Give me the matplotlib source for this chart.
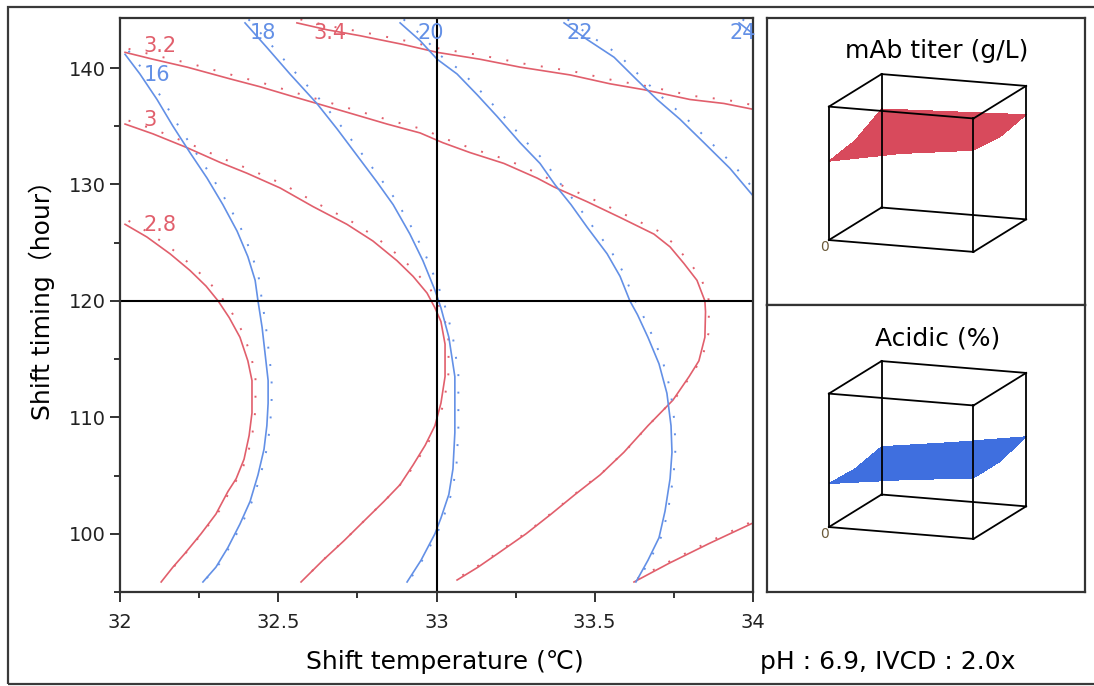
import numpy as np
import matplotlib
matplotlib.use("Agg")
import matplotlib.pyplot as plt
from matplotlib.patches import Rectangle
from matplotlib.transforms import ScaledTranslation
from mpl_toolkits.mplot3d import Axes3D  # noqa: F401

# ---- contour traces: (shift temperature, shift timing) ----
# mAb titer (g/L)
titer_28_t = [32.016, 32.085, 32.158, 32.221, 32.272, 32.310, 32.345, 32.379, 32.404, 32.417,
              32.417, 32.408, 32.392, 32.367, 32.341, 32.303, 32.256, 32.205, 32.167, 32.130]
titer_28_h = [126.58, 125.49, 124.05, 122.62, 121.27, 120.00, 118.57, 116.88, 114.85, 113.16,
              110.38, 108.44, 106.41, 104.73, 103.63, 101.69, 100.00, 98.31, 97.13, 95.86]

titer_30_t = [32.016, 32.104, 32.212, 32.316, 32.401, 32.506, 32.610, 32.717, 32.799, 32.875,
              32.926, 32.970, 32.995, 33.014, 33.027, 33.027, 33.014, 32.995, 32.964, 32.926,
              32.885, 32.834, 32.771, 32.708, 32.641, 32.572]
titer_30_h = [135.19, 134.35, 133.16, 131.90, 130.97, 129.70, 128.10, 126.58, 125.15, 123.46,
              122.11, 120.68, 119.41, 118.23, 116.29, 113.50, 111.22, 109.28, 107.59, 105.91,
              104.22, 102.78, 101.10, 99.41, 97.72, 95.86]

titer_32_t = [32.016, 32.104, 32.212, 32.348, 32.442, 32.547, 32.632, 32.749, 32.844, 32.948,
              33.020, 33.106, 33.213, 33.318, 33.371, 33.476, 33.580, 33.687, 33.738, 33.782,
              33.823, 33.848, 33.850, 33.848, 33.829, 33.798, 33.747, 33.668, 33.592, 33.517,
              33.438, 33.362, 33.283, 33.194, 33.131, 33.065]
titer_32_h = [141.35, 140.76, 140.08, 139.07, 138.40, 137.55, 136.88, 135.95, 135.19, 134.43,
              133.59, 132.74, 131.81, 130.55, 129.79, 128.52, 127.17, 125.74, 124.64, 123.21,
              121.77, 120.00, 119.07, 116.88, 114.85, 113.50, 111.48, 109.28, 107.00, 105.06,
              103.38, 101.69, 100.00, 98.31, 97.13, 96.03]

titer_34_t = [32.559, 32.654, 32.758, 32.894, 33.002, 33.137, 33.264, 33.422, 33.548, 33.656,
              33.801, 33.908, 34.000]
titer_34_h = [143.88, 143.29, 142.78, 142.03, 141.35, 140.76, 140.08, 139.41, 138.65, 138.14,
              137.30, 136.96, 136.46]
titer_34b_t = [33.624, 33.735, 33.861, 34.000]
titer_34b_h = [95.86, 97.47, 99.16, 100.93]

# Acidic (%)
acid_16_t = [32.016, 32.063, 32.117, 32.167, 32.221, 32.275, 32.325, 32.370, 32.404, 32.427,
             32.436, 32.449, 32.461, 32.468, 32.468, 32.464, 32.455, 32.436, 32.411, 32.379,
             32.341, 32.303, 32.262]
acid_16_h = [141.18, 139.49, 137.30, 135.02, 132.74, 130.55, 128.27, 125.99, 123.80, 121.77,
             120.00, 117.72, 114.85, 113.16, 111.22, 109.28, 107.26, 105.06, 102.78, 100.84,
             98.82, 97.13, 95.86]

acid_18_t = [32.395, 32.464, 32.537, 32.622, 32.686, 32.749, 32.812, 32.863, 32.916, 32.957,
             32.995, 33.014, 33.039, 33.058, 33.058, 33.052, 33.039, 33.014, 32.995, 32.951,
             32.907]
acid_18_h = [143.88, 141.77, 139.49, 136.96, 134.77, 132.49, 130.21, 128.27, 125.74, 123.46,
             120.93, 119.41, 116.88, 113.50, 108.69, 105.57, 103.38, 101.35, 100.00, 97.72,
             95.86]

acid_20_t = [32.885, 32.948, 33.002, 33.065, 33.128, 33.191, 33.264, 33.327, 33.375, 33.425,
             33.476, 33.539, 33.580, 33.611, 33.635, 33.668, 33.703, 33.728, 33.741, 33.744,
             33.738, 33.722, 33.703, 33.668, 33.630]
acid_20_h = [143.88, 142.36, 140.76, 139.49, 137.72, 135.86, 133.59, 131.81, 129.96, 128.27,
             126.33, 124.05, 122.11, 120.00, 118.82, 116.88, 114.60, 112.07, 109.28, 107.00,
             104.73, 101.94, 99.66, 97.72, 95.86]

acid_22_t = [33.403, 33.476, 33.561, 33.633, 33.697, 33.769, 33.845, 33.927, 34.000]
acid_22_h = [143.88, 142.45, 140.93, 138.99, 137.30, 135.61, 133.59, 131.39, 129.03]

acid_24_t = [33.956, 34.000]
acid_24_h = [143.88, 142.95]

titer_levels = ["2.8", "3", "3.2", "3.4"]
acid_levels = ["16", "18", "20", "22", "24"]

# surfaces for the 3D thumbnails (temperature x timing grid)
grid_temp = [32.0, 33.0, 34.0]
grid_time = [96.0, 120.0, 144.0]
titer_grid = [[2.60, 3.05, 3.35],   # timing 96
              [2.75, 3.00, 3.25],   # timing 120
              [3.25, 3.35, 3.45]]   # timing 144
acid_grid = [[15.0, 18.3, 21.0],
             [14.5, 18.0, 21.0],
             [16.5, 20.0, 24.0]]

set_temp = 33.0
set_time = 120.0

RED = "#e15f6c"
BLUE = "#6390e6"
RED_FILL = "#d84a5c"
BLUE_FILL = "#3f6fdf"

W, H = 1094, 686
fig = plt.figure(figsize=(W / 100, H / 100), dpi=100)

# outer frame
fig.add_artist(Rectangle((8 / W, 2 / H), 1.2, 677 / H, transform=fig.transFigure,
                         fill=False, lw=1.6, ec="#3a3a3a"))

ax = fig.add_axes([120 / W, 94 / H, 633 / W, 574 / H])
shift = ScaledTranslation(0.035, 0.035, fig.dpi_scale_trans)
dots = ax.transData + shift

red_traces = [(titer_28_t, titer_28_h), (titer_30_t, titer_30_h),
              (titer_32_t, titer_32_h), (titer_34_t, titer_34_h), (titer_34b_t, titer_34b_h)]
blue_traces = [(acid_16_t, acid_16_h), (acid_18_t, acid_18_h), (acid_20_t, acid_20_h),
               (acid_22_t, acid_22_h), (acid_24_t, acid_24_h)]

for t, h in red_traces:
    ax.plot(t, h, color=RED, lw=1.2)
    ax.plot(t, h, color=RED, lw=1.4, ls=(0, (1, 8)), transform=dots)
for t, h in blue_traces:
    ax.plot(t, h, color=BLUE, lw=1.2)
    ax.plot(t, h, color=BLUE, lw=1.4, ls=(0, (1, 8)), transform=dots)

# contour labels near the start of each trace
lab_kw = dict(fontsize=15, ha="left", va="center", family="DejaVu Sans")
ax.text(32.075, 141.9, titer_levels[2], color=RED, **lab_kw)
ax.text(32.075, 135.5, titer_levels[1], color=RED, **lab_kw)
ax.text(32.075, 126.5, titer_levels[0], color=RED, **lab_kw)
ax.text(32.61, 143.0, titer_levels[3], color=RED, **lab_kw)
ax.text(32.075, 139.4, acid_levels[0], color=BLUE, **lab_kw)
ax.text(32.41, 143.0, acid_levels[1], color=BLUE, **lab_kw)
ax.text(32.94, 143.0, acid_levels[2], color=BLUE, **lab_kw)
ax.text(33.41, 143.0, acid_levels[3], color=BLUE, **lab_kw)
ax.text(33.925, 143.0, acid_levels[4], color=BLUE, **lab_kw)

ax.axvline(set_temp, color="black", lw=1.5)
ax.axhline(set_time, color="black", lw=1.5)

ax.set_xlim(32, 34)
ax.set_ylim(95.86, 144.3)
ax.set_xticks([32, 32.5, 33, 33.5, 34])
ax.set_xticklabels(["32", "32.5", "33", "33.5", "34"])
ax.set_xticks(np.arange(32.25, 34, 0.5), minor=True)
ax.set_yticks([100, 110, 120, 130, 140])
ax.set_yticks(np.arange(95, 145, 10), minor=True)
ax.tick_params(which="major", length=7, width=1.3, labelsize=14, colors="#222")
ax.tick_params(which="minor", length=4, width=1.3, colors="#222")
ax.tick_params(axis="x", which="major", pad=8)
for s in ax.spines.values():
    s.set_linewidth(1.6)
    s.set_color("#333")

txt_fam = ["DejaVu Sans", "Noto Sans CJK JP"]
fig.text(445 / W, 24 / H, "Shift temperature (℃)", ha="center", va="center",
         fontsize=18, family=txt_fam)
fig.text(42 / W, 392 / H, "Shift timing（hour）", ha="center", va="center",
         rotation=90, fontsize=18, family=txt_fam)
fig.text(888 / W, 24 / H, "pH : 6.9, IVCD : 2.0x", ha="center", va="center",
         fontsize=18, family=txt_fam)

# right-hand panels
panels = [(381, "mAb titer (g/L)", titer_grid, RED_FILL, (0, 4.4)),
          (94, "Acidic (%)", acid_grid, BLUE_FILL, (0, 46))]
for bottom_px, title, zgrid, fill, zlim in panels:
    pax = fig.add_axes([767 / W, bottom_px / H, 318 / W, 287 / H])
    pax.set_xticks([])
    pax.set_yticks([])
    for s in pax.spines.values():
        s.set_linewidth(1.6)
        s.set_color("#333")
    pax.text(0.535, 0.885, title, transform=pax.transAxes, ha="center", va="center",
             fontsize=18, family=txt_fam)

    cy = bottom_px + 287 - (166.5 - 18)
    ax3 = fig.add_axes([(924 - 130) / W, (cy - 130) / H, 260 / W, 260 / H],
                       projection="3d", computed_zorder=False)
    ax3.set_axis_off()
    ax3.patch.set_alpha(0)
    ax3.set_proj_type("ortho")
    ax3.view_init(elev=13, azim=-70)
    ax3.set_box_aspect((1, 1, 0.89), zoom=0.96)
    x0, x1 = grid_temp[0], grid_temp[-1]
    y0, y1 = grid_time[0], grid_time[-1]
    z0, z1 = zlim
    ax3.set_xlim(x0, x1)
    ax3.set_ylim(y0, y1)
    ax3.set_zlim(z0, z1)

    ek = dict(color="black", lw=1.3)
    # edges meeting the hidden back-left-bottom corner
    ax3.plot([x0, x1], [y1, y1], [z0, z0], **ek)
    ax3.plot([x0, x0], [y0, y1], [z0, z0], **ek)
    ax3.plot([x0, x0], [y1, y1], [z0, z1], **ek)

    T, Hh = np.meshgrid(grid_temp, grid_time)
    ax3.plot_surface(T, Hh, np.array(zgrid), color=fill, shade=False,
                     linewidth=0, antialiased=False)

    ax3.plot([x0, x1], [y0, y0], [z0, z0], **ek)
    ax3.plot([x1, x1], [y0, y1], [z0, z0], **ek)
    for xx, yy in [(x0, y0), (x1, y0), (x1, y1)]:
        ax3.plot([xx, xx], [yy, yy], [z0, z1], **ek)
    ax3.plot([x0, x1], [y0, y0], [z1, z1], **ek)
    ax3.plot([x0, x1], [y1, y1], [z1, z1], **ek)
    ax3.plot([x0, x0], [y0, y1], [z1, z1], **ek)
    ax3.plot([x1, x1], [y0, y1], [z1, z1], **ek)
    ax3.text(x0, y0, z0, "0", fontsize=10, color="#6b5a3a", ha="right", va="top")

fig.savefig("out.png", dpi=100)
